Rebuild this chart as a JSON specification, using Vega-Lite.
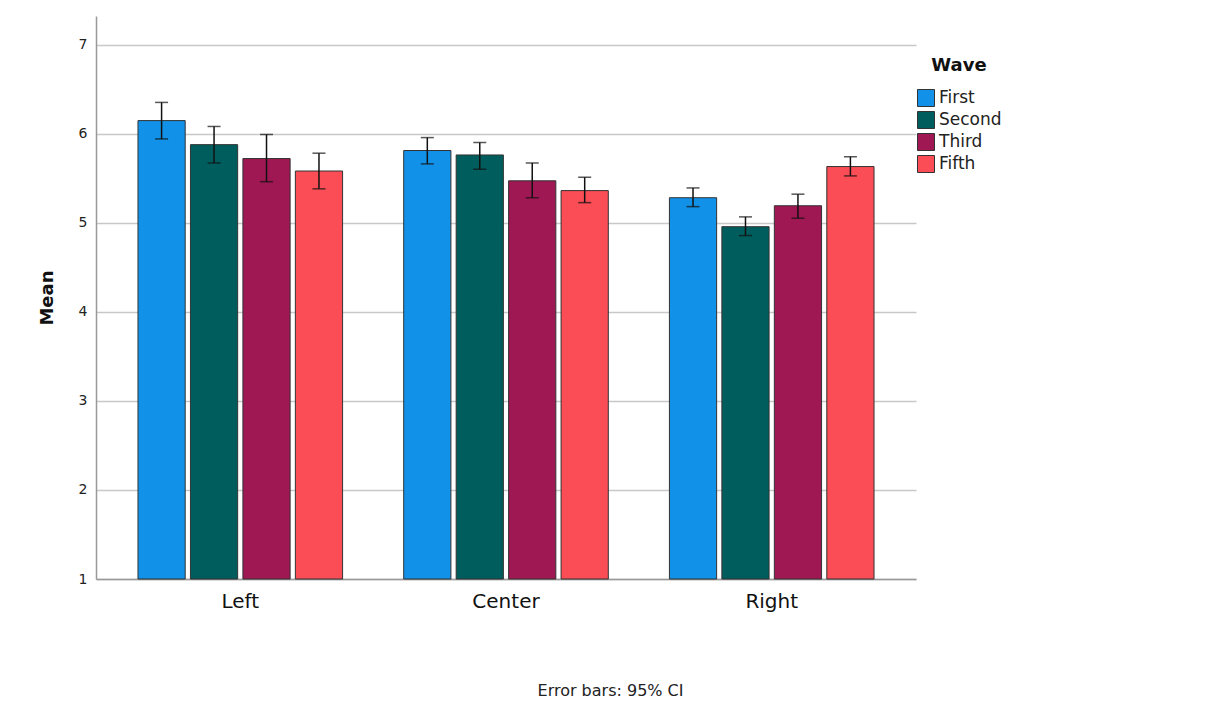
{
  "$schema": "https://vega.github.io/schema/vega-lite/v6.json",
  "width": 820,
  "height": 563,
  "autosize": {"type": "none"},
  "padding": {"left": 96, "top": 16, "right": 301, "bottom": 139},
  "background": "white",
  "config": {
    "font": "DejaVu Sans",
    "view": {"stroke": null}
  },
  "data": {
    "values": [
      {"group": "Left", "wave": "First", "mean": 6.146, "lo": 5.94, "hi": 6.35},
      {"group": "Left", "wave": "Second", "mean": 5.876, "lo": 5.67, "hi": 6.08},
      {"group": "Left", "wave": "Third", "mean": 5.72, "lo": 5.46, "hi": 5.99},
      {"group": "Left", "wave": "Fifth", "mean": 5.58, "lo": 5.38, "hi": 5.78},
      {"group": "Center", "wave": "First", "mean": 5.81, "lo": 5.66, "hi": 5.955},
      {"group": "Center", "wave": "Second", "mean": 5.76, "lo": 5.6, "hi": 5.9},
      {"group": "Center", "wave": "Third", "mean": 5.47, "lo": 5.28, "hi": 5.67},
      {"group": "Center", "wave": "Fifth", "mean": 5.36, "lo": 5.225, "hi": 5.51},
      {"group": "Right", "wave": "First", "mean": 5.28, "lo": 5.18, "hi": 5.39},
      {"group": "Right", "wave": "Second", "mean": 4.955, "lo": 4.855, "hi": 5.065},
      {"group": "Right", "wave": "Third", "mean": 5.19, "lo": 5.05, "hi": 5.32},
      {"group": "Right", "wave": "Fifth", "mean": 5.63, "lo": 5.525, "hi": 5.74}
    ]
  },
  "encoding": {
    "x": {
      "field": "group",
      "type": "nominal",
      "sort": ["Left", "Center", "Right"],
      "scale": {"paddingInner": 0.23, "paddingOuter": 0.158},
      "axis": {
        "title": "Error bars: 95% CI",
        "titleX": 514,
        "titleY": 111,
        "titleBaseline": "middle",
        "titleAnchor": "middle",
        "titleFontSize": 16,
        "titleFontWeight": "normal",
        "titleColor": "#222",
        "labelAngle": 0,
        "labelFontSize": 20,
        "labelColor": "#111",
        "labelPadding": 12,
        "ticks": false,
        "domainColor": "#999",
        "domainWidth": 1.5
      }
    },
    "xOffset": {
      "field": "wave",
      "type": "nominal",
      "sort": ["First", "Second", "Third", "Fifth"],
      "scale": {"paddingInner": 0.1, "paddingOuter": 0}
    }
  },
  "layer": [
    {
      "mark": {"type": "bar", "stroke": "#333", "strokeWidth": 1},
      "encoding": {
        "y": {
          "field": "mean",
          "type": "quantitative",
          "scale": {"domain": [1, 7.32], "nice": false, "zero": false},
          "axis": {
            "values": [1, 2, 3, 4, 5, 6, 7],
            "format": "d",
            "grid": true,
            "gridColor": "#c8c8c8",
            "gridWidth": 1.5,
            "ticks": false,
            "domainColor": "#999",
            "domainWidth": 1.5,
            "labelFontSize": 14,
            "labelColor": "#222",
            "labelPadding": 9,
            "title": "Mean",
            "titleFontSize": 18,
            "titleFontWeight": "bold",
            "titleColor": "#111",
            "titlePadding": 22
          }
        },
        "y2": {"datum": 1},
        "color": {
          "field": "wave",
          "type": "nominal",
          "sort": ["First", "Second", "Third", "Fifth"],
          "scale": {
            "domain": ["First", "Second", "Third", "Fifth"],
            "range": ["#1192e8", "#005d5d", "#9f1853", "#fa4d56"]
          },
          "legend": {
            "title": "Wave",
            "orient": "none",
            "legendX": 821,
            "legendY": 41,
            "titleFontSize": 18,
            "titleFontWeight": "bold",
            "titleColor": "#111",
            "titleAnchor": "middle",
            "titlePadding": 14,
            "labelFontSize": 17,
            "labelColor": "#222",
            "labelOffset": 4,
            "symbolType": "square",
            "symbolSize": 289,
            "symbolStrokeColor": "#333",
            "symbolStrokeWidth": 1,
            "symbolOpacity": 1,
            "rowPadding": 0
          }
        }
      }
    },
    {
      "mark": {"type": "rule", "color": "#111", "strokeWidth": 1.5},
      "encoding": {
        "y": {"field": "lo", "type": "quantitative"},
        "y2": {"field": "hi"}
      }
    },
    {
      "mark": {"type": "tick", "color": "#111", "thickness": 1.5, "size": 13},
      "encoding": {
        "y": {"field": "lo", "type": "quantitative"}
      }
    },
    {
      "mark": {"type": "tick", "color": "#111", "thickness": 1.5, "size": 13},
      "encoding": {
        "y": {"field": "hi", "type": "quantitative"}
      }
    }
  ]
}
